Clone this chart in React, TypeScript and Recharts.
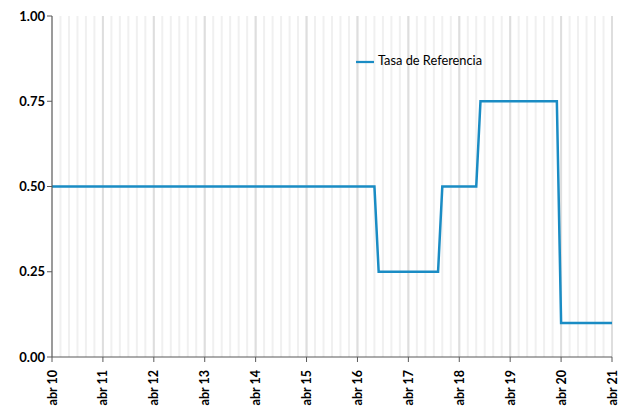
import React from 'react'
import {
    LineChart,
    Line,
    XAxis,
    YAxis,
    CartesianGrid,
    Legend,
} from "recharts";

// monthly reference rate, abr 10 .. abr 21 (one row per year, starting in april)
const tasa = [
    0.5, 0.5, 0.5, 0.5, 0.5, 0.5, 0.5, 0.5, 0.5, 0.5, 0.5, 0.5,
    0.5, 0.5, 0.5, 0.5, 0.5, 0.5, 0.5, 0.5, 0.5, 0.5, 0.5, 0.5,
    0.5, 0.5, 0.5, 0.5, 0.5, 0.5, 0.5, 0.5, 0.5, 0.5, 0.5, 0.5,
    0.5, 0.5, 0.5, 0.5, 0.5, 0.5, 0.5, 0.5, 0.5, 0.5, 0.5, 0.5,
    0.5, 0.5, 0.5, 0.5, 0.5, 0.5, 0.5, 0.5, 0.5, 0.5, 0.5, 0.5,
    0.5, 0.5, 0.5, 0.5, 0.5, 0.5, 0.5, 0.5, 0.5, 0.5, 0.5, 0.5,
    0.5, 0.5, 0.5, 0.5, 0.5, 0.25, 0.25, 0.25, 0.25, 0.25, 0.25, 0.25,
    0.25, 0.25, 0.25, 0.25, 0.25, 0.25, 0.25, 0.25, 0.5, 0.5, 0.5, 0.5,
    0.5, 0.5, 0.5, 0.5, 0.5, 0.75, 0.75, 0.75, 0.75, 0.75, 0.75, 0.75,
    0.75, 0.75, 0.75, 0.75, 0.75, 0.75, 0.75, 0.75, 0.75, 0.75, 0.75, 0.75,
    0.1, 0.1, 0.1, 0.1, 0.1, 0.1, 0.1, 0.1, 0.1, 0.1, 0.1, 0.1,
    0.1,
];
const yearLabels = ["abr 10", "abr 11", "abr 12", "abr 13", "abr 14", "abr 15", "abr 16", "abr 17", "abr 18", "abr 19", "abr 20", "abr 21"];
const yTicks = [0, 0.25, 0.5, 0.75, 1];

const data = tasa.map((v, i) => ({ m: i, tasa: v }));
const lastMonth = tasa.length - 1;
const yearTicks = yearLabels.map((_, i) => i * 12);
const gridTicks = Array.from({ length: lastMonth / 2 + 1 }, (_, i) => i * 2);

const FONT = "Lato, 'Liberation Sans', sans-serif";

function YearTick({ x, y, payload }: any) {
    const label = yearLabels[Math.round(payload.value / 12)];
    return (
        <text
            transform={`translate(${x},${y}) rotate(-90)`}
            x={-6}
            dy="0.36em"
            textAnchor="end"
            fontFamily={FONT}
            fontSize={12.5}
            fontWeight={700}
            fill="#000"
        >
            {label}
        </text>
    );
}

export default function App() {
    return (
        <div style={{ position: "absolute", left: 0, top: 0, background: "#fff" }}>
            <LineChart
                width={618}
                height={408}
                data={data}
                margin={{ top: 16, right: 6, bottom: 0, left: 0 }}
            >
                <CartesianGrid xAxisId="grid" horizontal={false} stroke="#f0f0f0" strokeWidth={2} />
                <CartesianGrid horizontal={false} stroke="#dedede" strokeWidth={2} />
                <XAxis
                    xAxisId="grid"
                    dataKey="m"
                    type="number"
                    domain={[0, lastMonth]}
                    ticks={gridTicks}
                    interval={0}
                    hide
                />
                <XAxis
                    dataKey="m"
                    type="number"
                    domain={[0, lastMonth]}
                    ticks={yearTicks}
                    interval={0}
                    height={51}
                    tick={<YearTick />}
                    tickSize={5}
                    stroke="#595959"
                />
                <YAxis
                    domain={[0, 1]}
                    ticks={yTicks}
                    width={52}
                    tickSize={5}
                    stroke="#595959"
                    tickFormatter={(v) => v.toFixed(2)}
                    tick={{ fontFamily: FONT, fontSize: 13, fontWeight: 700, fill: "#000" }}
                />
                <Legend
                    layout="horizontal"
                    align="center"
                    verticalAlign="middle"
                    iconType="plainline"
                    iconSize={18}
                    wrapperStyle={{ top: 52, left: 339, width: 170, fontFamily: FONT, fontSize: 12.8 }}
                    formatter={(value) => <span style={{ color: "#000" }}>{value}</span>}
                />
                <Line
                    xAxisId={0}
                    name="Tasa de Referencia"
                    dataKey="tasa"
                    type="linear"
                    stroke="#1a8cc4"
                    strokeWidth={2.5}
                    dot={false}
                    isAnimationActive={false}
                />
            </LineChart>
        </div>
    );
}
